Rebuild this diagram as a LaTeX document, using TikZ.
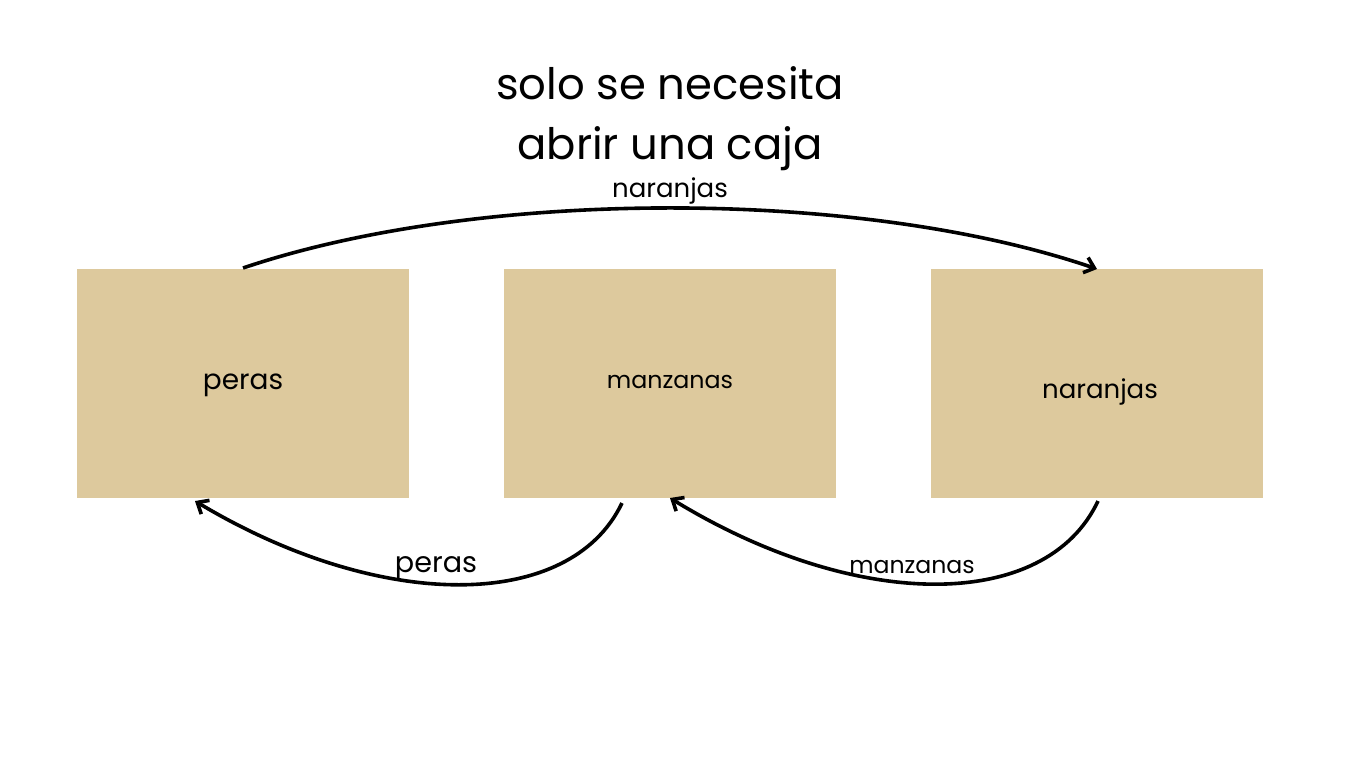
\documentclass[tikz,border=0pt]{standalone}
\usepackage{fontspec}
\setmainfont{Poppins}
\usetikzlibrary{arrows.meta}
\definecolor{boxfill}{HTML}{DDC99D}
\begin{document}
\begin{tikzpicture}[x=0.75pt,y=-0.75pt,
  box/.style={fill=boxfill,draw=none,minimum width=249pt,minimum height=171.75pt,inner sep=0pt,anchor=north west},
  conn/.style={line width=2.7pt,-{Straight Barb[length=7pt,width=12pt,line width=2.7pt]}},
  lbl/.style={inner sep=0pt}]
\useasboundingbox (0,0) rectangle (1366,768);
\node[lbl,align=center,font={\fontsize{32.5}{45}\selectfont}] (title) at (670,119) {solo se necesita\\abrir una caja};
\node[box] (b1) at (77,269) {};
\node[box] (b2) at (504,269) {};
\node[box] (b3) at (931,269) {};
\node[lbl,font={\fontsize{21}{25}\selectfont}] (t1) at (243,385) {peras};
\node[lbl,font={\fontsize{17.8}{21}\selectfont}] (t2) at (670,382) {manzanas};
\node[lbl,font={\fontsize{19.5}{23}\selectfont}] (t3) at (1100,392) {naranjas};
\coordinate (a1s) at (243,268);
\coordinate (a1e) at (1097,269);
\coordinate (a2s) at (622,503);
\coordinate (a2e) at (195,501);
\coordinate (a3s) at (1098,501);
\coordinate (a3e) at (670,498);
\draw[conn] (a1s) .. controls (480,188) and (860,188) .. (a1e);
\draw[conn] (a2s) .. controls (570,612) and (380,612) .. (a2e);
\draw[conn] (a3s) .. controls (1046,612) and (856,612) .. (a3e);
\node[lbl,font={\fontsize{19.5}{23}\selectfont}] (l1) at (670,191) {naranjas};
\node[lbl,font={\fontsize{21.5}{25}\selectfont}] (l2) at (436,568) {peras};
\node[lbl,font={\fontsize{17.7}{21}\selectfont}] (l3) at (912,567) {manzanas};
\end{tikzpicture}
\end{document}
